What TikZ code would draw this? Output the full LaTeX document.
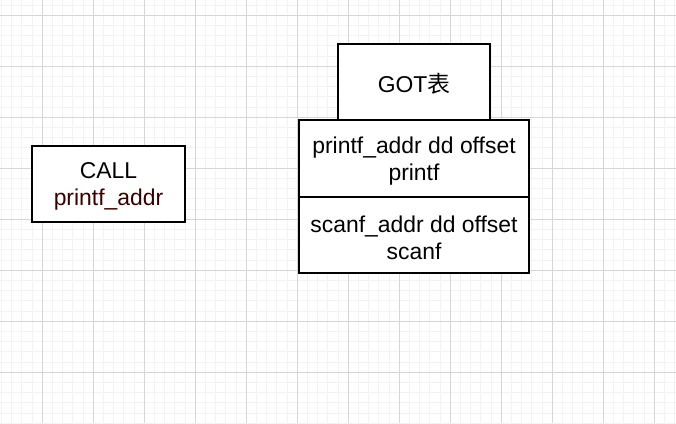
\documentclass[tikz,border=0pt]{standalone}
\usepackage{fontspec}
\setmainfont{Liberation Sans}
\newfontfamily\cjkfont{Noto Sans CJK SC}
\definecolor{gridmajor}{HTML}{D6D6D6}
\definecolor{gridminor}{HTML}{F2F2F2}
\definecolor{callred}{RGB}{55,0,0}
\begin{document}
\begin{tikzpicture}[x=1pt,y=-1pt,
  box/.style={draw=black, line width=1.3pt, fill=white, inner sep=0pt},
  lbl/.style={inner sep=0pt, align=center, font=\fontsize{22.9}{26.7}\selectfont},
  minorline/.style={gridminor, line width=1pt},
  majorline/.style={gridmajor, line width=1pt}]
\useasboundingbox (0,0) rectangle (676,423);
\fill[white] (0,0) rectangle (676,423);
% grid
\foreach \i in {0,...,66} \draw[minorline] ({1.5+10.2*\i},0) -- ({1.5+10.2*\i},423);
\foreach \j in {0,...,41} \draw[minorline] (0,{5.1+10.2*\j}) -- (676,{5.1+10.2*\j});
\foreach \i in {0,...,12} \draw[majorline] ({42.3+51*\i},0) -- ({42.3+51*\i},423);
\foreach \j in {0,...,7} \draw[majorline] (0,{15.3+51*\j}) -- (676,{15.3+51*\j});
% boxes
\node[box, minimum width=153pt, minimum height=76pt] (call) at (108.5,184) {};
\node[box, minimum width=152pt, minimum height=76pt] (got) at (414,82) {};
\node[box, minimum width=230pt, minimum height=77pt] (printf) at (414,158.5) {};
\node[box, minimum width=230pt, minimum height=76pt] (scanf) at (414,235) {};
% texts
\node[lbl] (calltext) at ([yshift=-2.5pt]call.center) {CALL\\\textcolor{callred}{printf\_addr}};
\node[lbl] (gottext) at ([yshift=-2pt]got.center) {GOT{\cjkfont 表}};
\node[lbl] (printftext) at ([yshift=-2.5pt]printf.center) {printf\_addr dd offset\\printf};
\node[lbl] (scanftext) at ([yshift=-2.5pt]scanf.center) {scanf\_addr dd offset\\scanf};
\end{tikzpicture}
\end{document}
